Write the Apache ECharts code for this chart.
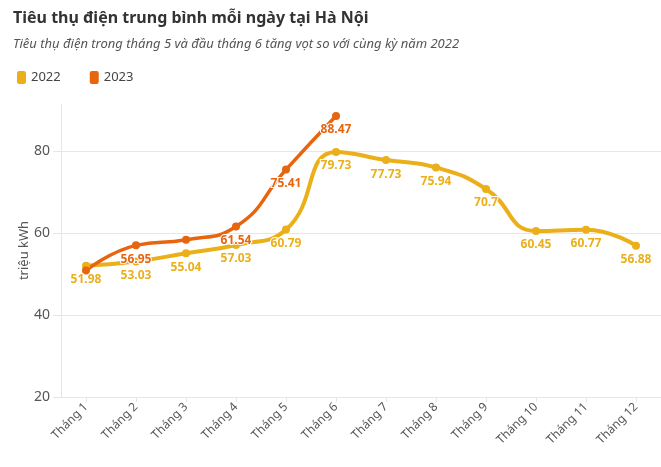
<!DOCTYPE html>
<html>
<head>
    <meta charset="utf-8">
    <script src="https://cdn.jsdelivr.net/npm/echarts@6/dist/echarts.min.js"></script>
    <title>Tiêu thụ điện Hà Nội</title>
    <style>
        body { margin: 0; background: #fff; }
    </style>
</head>
<body>
    <div id="container" style="width:661px;height:467px;"></div>
    <script>
    // dữ liệu
    var months = ['Tháng 1', 'Tháng 2', 'Tháng 3', 'Tháng 4', 'Tháng 5', 'Tháng 6',
        'Tháng 7', 'Tháng 8', 'Tháng 9', 'Tháng 10', 'Tháng 11', 'Tháng 12'];
    var data2022 = [51.98, 53.03, 55.04, 57.03, 60.79, 79.73, 77.73, 75.94, 70.7, 60.45, 60.77, 56.88];
    var data2023 = [50.8, 56.95, 58.3, 61.54, 75.41, 88.47];
    var yTicks = [20, 40, 60, 80];

    var font = 'Noto Sans';
    var chart = echarts.init(document.getElementById('container'));

    function lineSeries(name, data, color, width) {
        return {
            name: name,
            type: 'line',
            data: data,
            smooth: 0.5,
            symbol: 'circle',
            symbolSize: 8,
            itemStyle: { color: color },
            lineStyle: { color: color, width: width },
            label: {
                show: true,
                position: 'bottom',
                distance: 4,
                color: color,
                fontFamily: font,
                fontSize: 12,
                fontWeight: 'bold',
                textBorderColor: '#fff',
                textBorderWidth: 2
            },
            labelLayout: { hideOverlap: true }
        };
    }

    var option = {
        animation: false,
        title: {
            text: 'Tiêu thụ điện trung bình mỗi ngày tại Hà Nội',
            subtext: 'Tiêu thụ điện trong tháng 5 và đầu tháng 6 tăng vọt so với cùng kỳ năm 2022',
            left: 8,
            top: 5,
            itemGap: 12,
            textStyle: { fontFamily: font, fontSize: 16, fontWeight: 'bold', color: '#333' },
            subtextStyle: { fontFamily: font, fontSize: 13, fontStyle: 'italic', color: '#555' }
        },
        legend: {
            left: 12,
            top: 66,
            icon: 'roundRect',
            itemWidth: 9,
            itemHeight: 13,
            itemGap: 29,
            textStyle: { fontFamily: font, fontSize: 13, color: '#444' },
            data: ['2022', '2023']
        },
        grid: { left: 61, right: 0, top: 104, bottom: 70 },
        xAxis: {
            type: 'category',
            data: months,
            axisLine: { lineStyle: { color: '#e6e6e6' } },
            axisTick: { show: true, alignWithLabel: true, length: 5, lineStyle: { color: '#e6e6e6' } },
            axisLabel: { rotate: 45, color: '#555', fontFamily: font, fontSize: 12, margin: 8 }
        },
        yAxis: {
            type: 'value',
            min: 20,
            max: 91.4,
            interval: 20,
            name: 'triệu kWh',
            nameLocation: 'middle',
            nameGap: 30,
            nameMoveOverlap: false,
            nameTextStyle: { color: '#555', fontFamily: font, fontSize: 13 },
            axisLine: { show: true, lineStyle: { color: '#e6e6e6' } },
            axisTick: { show: true, length: 8, lineStyle: { color: '#e6e6e6' } },
            axisLabel: {
                color: '#555', fontFamily: font, fontSize: 14, margin: 11,
                showMaxLabel: false,
                formatter: function (v) { return yTicks.indexOf(v) >= 0 ? v : ''; }
            },
            splitLine: { show: true, showMaxLine: false, lineStyle: { color: '#e6e6e6' } }
        },
        series: [
            lineSeries('2022', data2022, '#ebb019', 4),
            lineSeries('2023', data2023, '#e8650f', 3.5)
        ]
    };

    chart.setOption(option);
    </script>
</body>
</html>
